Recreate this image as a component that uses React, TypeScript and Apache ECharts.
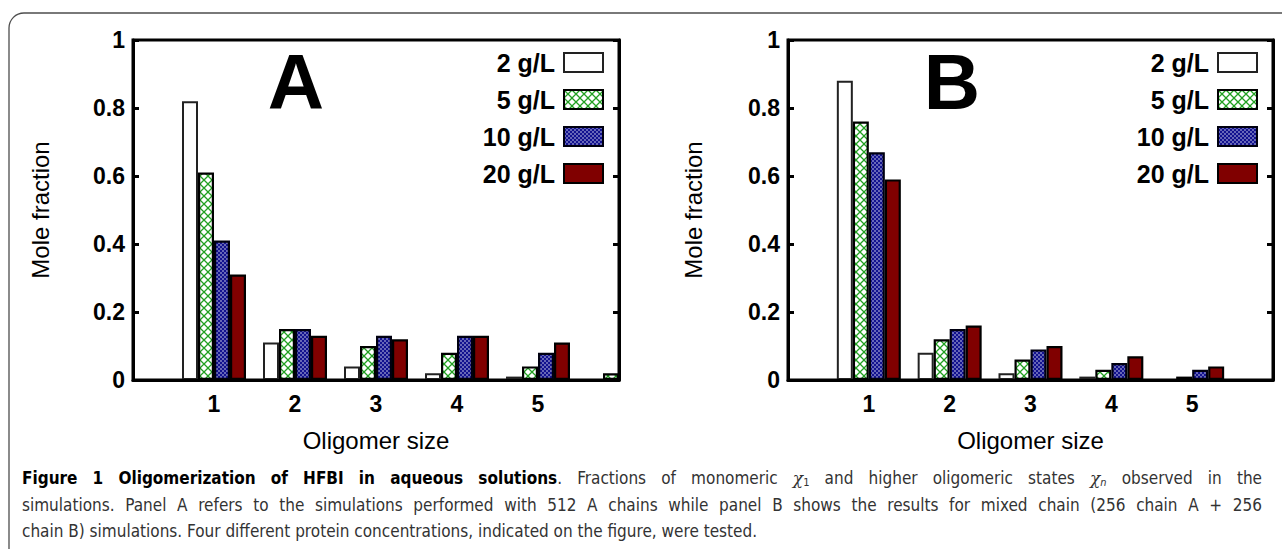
import React, { useEffect, useRef } from "react";
import * as echarts from "echarts";

// ---------- data ----------
const categories = ["0", "1", "2", "3", "4", "5", "6"];
const seriesNames = ["2 g/L", "5 g/L", "10 g/L", "20 g/L"];
const yTickValues = [0, 0.2, 0.4, 0.6, 0.8, 1];

// Panel A (512 A chains)
const a2 = [null, 0.82, 0.11, 0.04, 0.02, 0.01, 0];
const a5 = [null, 0.61, 0.15, 0.1, 0.08, 0.04, 0.02];
const a10 = [null, 0.41, 0.15, 0.13, 0.13, 0.08, null];
const a20 = [null, 0.31, 0.13, 0.12, 0.13, 0.11, null];

// Panel B (256 A + 256 B chains)
const b2 = [null, 0.88, 0.08, 0.02, 0.01, 0, null];
const b5 = [null, 0.76, 0.12, 0.06, 0.03, 0.01, null];
const b10 = [null, 0.67, 0.15, 0.09, 0.05, 0.03, null];
const b20 = [null, 0.59, 0.16, 0.1, 0.07, 0.04, null];

const panelTitles = ["A", "B"];
const xName = "Oligomer size";
const yName = "Mole fraction";

const captionBold = "Figure 1 Oligomerization of HFBI in aqueous solutions";
const captionA = "Fractions of monomeric";
const captionB = "and higher oligomeric states";
const captionC = "observed in the";
const chi = "χ";
const sub1 = "1";
const subN = "n";
const captionLine2 =
  "simulations. Panel A refers to the simulations performed with 512 A chains while panel B shows the results for mixed chain (256 chain A + 256";
const captionLine3 =
  "chain B) simulations. Four different protein concentrations, indicated on the figure, were tested.";

const FONT = '"Liberation Sans", Arial, Helvetica, sans-serif';
const CAP_FONT = '"Liberation Sans Narrow", "DejaVu Sans Condensed", "Liberation Sans", sans-serif';
const CAP_SIZE = 17;

const richStyles: Record<string, any> = {
  b: { fontFamily: CAP_FONT, fontWeight: "bold", fontSize: CAP_SIZE, fill: "#000", lineHeight: 20 },
  n: { fontFamily: CAP_FONT, fontSize: CAP_SIZE, fill: "#333", lineHeight: 20 },
  i: { fontFamily: '"DejaVu Serif", serif', fontStyle: "italic", fontSize: CAP_SIZE, fill: "#333", lineHeight: 20 },
  s: { fontFamily: CAP_FONT, fontSize: 11, fill: "#333", lineHeight: 12, verticalAlign: "bottom" },
  si: { fontFamily: CAP_FONT, fontStyle: "italic", fontSize: 11, fill: "#333", lineHeight: 12, verticalAlign: "bottom" },
};

function hatchPattern() {
  const c = document.createElement("canvas");
  c.width = 8;
  c.height = 8;
  const ctx = c.getContext("2d")!;
  ctx.fillStyle = "#ffffff";
  ctx.fillRect(0, 0, 8, 8);
  ctx.strokeStyle = "#22a022";
  ctx.lineWidth = 1.3;
  for (const o of [-8, 0, 8]) {
    ctx.beginPath();
    ctx.moveTo(o, 0);
    ctx.lineTo(o + 8, 8);
    ctx.moveTo(o + 8, 0);
    ctx.lineTo(o, 8);
    ctx.stroke();
  }
  return { image: c.toDataURL(), repeat: "repeat", imageWidth: 8, imageHeight: 8 };
}

function dotPattern() {
  const c = document.createElement("canvas");
  c.width = 4;
  c.height = 4;
  const ctx = c.getContext("2d")!;
  ctx.fillStyle = "#12128f";
  ctx.fillRect(0, 0, 4, 4);
  ctx.fillStyle = "#ffffff";
  for (const [x, y] of [
    [1, 1],
    [3, 3],
  ]) {
    ctx.beginPath();
    ctx.arc(x, y, 0.7, 0, Math.PI * 2);
    ctx.fill();
  }
  return { image: c.toDataURL(), repeat: "repeat", imageWidth: 4, imageHeight: 4 };
}

type Piece = [string, string];

function buildJustified(words: Piece[][], x0: number, width: number, y: number, justify: boolean) {
  const c = document.createElement("canvas");
  const ctx = c.getContext("2d")!;
  const measure = (p: Piece) => {
    const s = richStyles[p[0]];
    ctx.font = `${s.fontStyle || "normal"} ${s.fontWeight || "normal"} ${s.fontSize}px ${s.fontFamily}`;
    return ctx.measureText(p[1]).width;
  };
  const widths = words.map((w) => w.reduce((acc, p) => acc + measure(p), 0));
  const total = widths.reduce((a, b) => a + b, 0);
  ctx.font = `normal normal ${CAP_SIZE}px ${CAP_FONT}`;
  const natural = ctx.measureText(" ").width;
  const gap = justify && words.length > 1 ? (width - total) / (words.length - 1) : natural;
  const els: any[] = [];
  let x = x0;
  words.forEach((w, k) => {
    els.push({
      type: "text",
      x,
      y,
      silent: true,
      style: {
        text: w.map((p) => `{${p[0]}|${p[1]}}`).join(""),
        rich: richStyles,
        verticalAlign: "middle",
        align: "left",
      },
    });
    x += widths[k] + gap;
  });
  return els;
}

export default function App() {
  const ref = useRef<HTMLDivElement>(null);

  useEffect(() => {
    if (!ref.current) return;
    const chart = echarts.init(ref.current, null, { renderer: "svg" });

    const styles: any[] = [
      { color: "#ffffff", borderColor: "#222222", borderWidth: 2 },
      { color: hatchPattern(), borderColor: "#000000", borderWidth: 2.2 },
      { color: dotPattern(), borderColor: "#000010", borderWidth: 2.2 },
      { color: "#800000", borderColor: "#000000", borderWidth: 2.2 },
    ];

    const grids = [
      { left: 133, top: 40, width: 486, height: 340 },
      { left: 788, top: 40, width: 485, height: 340 },
    ];

    const xAxes = grids.map((_, i) => ({
      type: "category",
      gridIndex: i,
      data: categories,
      boundaryGap: false,
      z: 5,
      axisLine: { show: true, lineStyle: { color: "#000", width: 3 } },
      axisTick: { show: false },
      axisLabel: {
        interval: (idx: number) => idx >= 1 && idx <= 5,
        color: "#000",
        fontFamily: FONT,
        fontWeight: "bold",
        fontSize: 23,
        margin: 12,
      },
      splitLine: { show: false },
      name: xName,
      nameLocation: "middle",
      nameGap: 48,
      nameTextStyle: { color: "#000", fontFamily: FONT, fontSize: 24 },
    }));

    const yAxes: any[] = [];
    grids.forEach((_, i) => {
      yAxes.push({
        type: "value",
        gridIndex: i,
        min: 0,
        max: 1,
        interval: 0.2,
        position: "left",
        z: 5,
        axisLine: { show: true, lineStyle: { color: "#000", width: 3 } },
        axisTick: { show: true, inside: true, length: 6, lineStyle: { color: "#000", width: 3 } },
        axisLabel: {
          color: "#000",
          fontFamily: FONT,
          fontWeight: "bold",
          fontSize: 23,
          margin: 8,
          customValues: yTickValues,
        },
        splitLine: { show: false },
        name: yName,
        nameLocation: "middle",
        nameGap: i === 0 ? 81 : 83,
        nameRotate: 90,
        nameTextStyle: { color: "#000", fontFamily: FONT, fontSize: 24 },
      });
      yAxes.push({
        type: "value",
        gridIndex: i,
        min: 0,
        max: 1,
        interval: 0.2,
        position: "right",
        z: 5,
        axisLine: { show: true, lineStyle: { color: "#000", width: 3 } },
        axisTick: { show: true, inside: true, length: 6, lineStyle: { color: "#000", width: 3 } },
        axisLabel: { show: false },
        splitLine: { show: false },
      });
    });

    const panelData = [
      [a2, a5, a10, a20],
      [b2, b5, b10, b20],
    ];

    const series: any[] = [];
    panelData.forEach((sets, p) => {
      sets.forEach((vals, k) => {
        series.push({
          type: "bar",
          name: seriesNames[k],
          xAxisIndex: p,
          yAxisIndex: p * 2,
          data: vals,
          barWidth: 16,
          barGap: "0%",
          clip: true,
          itemStyle: styles[k],
          emphasis: { disabled: true },
        });
      });
    });

    const legendCommon = {
      orient: "vertical",
      align: "right",
      top: 50,
      itemWidth: 39,
      itemHeight: 19,
      itemGap: 12,
      icon: "rect",
      padding: 0,
      selectedMode: false,
      data: seriesNames,
      textStyle: {
        color: "#000",
        fontFamily: FONT,
        fontWeight: "bold",
        fontSize: 25,
        lineHeight: 25,
        padding: [0, 4, 0, 0],
      },
    };

    // caption words
    const w = (key: string, s: string): Piece[][] => s.split(" ").map((t) => [[key, t] as Piece]);
    const line1: Piece[][] = [
      ...w("b", captionBold),
      ...w("n", captionA),
      [
        ["i", chi],
        ["s", sub1],
      ],
      ...w("n", captionB),
      [
        ["i", chi],
        ["si", subN],
      ],
      ...w("n", captionC),
    ];
    // attach the period after the bold phrase
    const boldCount = captionBold.split(" ").length;
    line1[boldCount - 1] = [...line1[boldCount - 1], ["n", "."]];
    const line2: Piece[][] = w("n", captionLine2);
    const line3: Piece[][] = w("n", captionLine3);

    const capY = [478, 505, 531];
    const captionEls = [
      ...buildJustified(line1, 22, 1240, capY[0], true),
      ...buildJustified(line2, 22, 1240, capY[1], true),
      ...buildJustified(line3, 22, 1240, capY[2], false),
    ];

    chart.setOption({
      animation: false,
      backgroundColor: "#ffffff",
      grid: grids.map((g) => ({ ...g, show: true, borderColor: "#000", borderWidth: 3, backgroundColor: "transparent" })),
      xAxis: xAxes,
      yAxis: yAxes,
      legend: [
        { ...legendCommon, right: 1282 - 604 },
        { ...legendCommon, right: 1282 - 1258 },
      ],
      series,
      graphic: [
        {
          type: "rect",
          silent: true,
          shape: { x: 9, y: 13, width: 1300, height: 570, r: 15 },
          style: { fill: "none", stroke: "#4d4d4d", lineWidth: 1.3 },
          z: 0,
        },
        {
          type: "text",
          x: 296,
          y: 82,
          style: { text: panelTitles[0], font: `bold 78px ${FONT}`, fill: "#000", align: "center", verticalAlign: "middle" },
        },
        {
          type: "text",
          x: 952,
          y: 82,
          style: { text: panelTitles[1], font: `bold 78px ${FONT}`, fill: "#000", align: "center", verticalAlign: "middle" },
        },
        ...captionEls,
      ],
    });

    return () => chart.dispose();
  }, []);

  return <div ref={ref} style={{ position: "fixed", left: 0, top: 0, width: 1282, height: 549 }} />;
}
